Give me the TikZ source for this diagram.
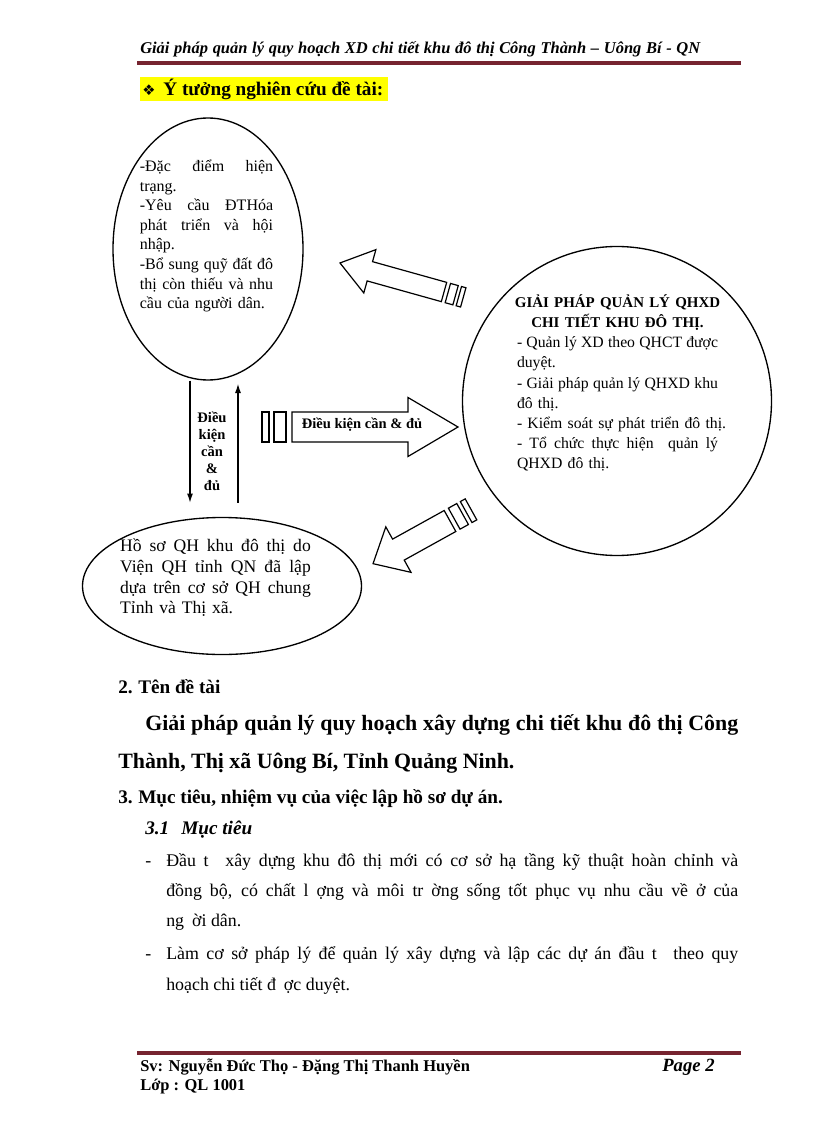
\documentclass[tikz,border=0pt]{standalone}
\usepackage{fontspec}
\setmainfont{Liberation Serif}
\newfontfamily\dingfont{DejaVu Sans}
\usetikzlibrary{shapes.geometric, arrows.meta, calc}
\setlength{\parindent}{0pt}
\definecolor{rulered}{RGB}{118,36,48}
\definecolor{markyellow}{RGB}{255,255,0}
\newlength{\ellw}
\newcommand{\justline}[1]{{\spaceskip=0pt\xspaceskip=0pt\makebox[\ellw][s]{#1}}}
\newcommand{\restline}[1]{\makebox[\ellw][l]{#1}}
\tikzset{
  ellbox/.style={draw, ellipse, line width=1pt, inner sep=0pt},
  blockarrow/.style={draw, line width=0.9pt, fill=white, line join=miter},
  thinarrow/.style={line width=1pt, -{Latex[length=7pt, width=4.5pt]}},
  elltext/.style={align=center, inner sep=0pt, text width=#1,
    execute at begin node={\setlength{\ellw}{#1}}},
  linetext/.style={anchor=base west, inner sep=0pt},
  bodyfont/.style={font=\fontsize{13.4}{16}\selectfont},
  headfont/.style={font=\fontsize{14.4}{17}\selectfont\bfseries},
  pics/stripearrow/.style n args={4}{code={
    \draw[blockarrow] (0,-#2) -- ({#1-#4},-#2) -- ({#1-#4},-#3) -- (#1,0)
      -- ({#1-#4},#3) -- ({#1-#4},#2) -- (0,#2) -- cycle;
    \draw[blockarrow] ({-0.4*#2},-#2) rectangle ({-1.2*#2},#2);
    \draw[blockarrow] ({-1.54*#2},-#2) rectangle ({-2*#2},#2);
  }},
}

\begin{document}
\begin{tikzpicture}[x=0.75pt, y=-0.75pt]
  \useasboundingbox (0,0) rectangle (816,1123);
  \fill[white] (0,0) rectangle (816,1123);
  % page header
  \node[linetext, font=\fontsize{12.35}{15}\selectfont\bfseries\itshape] (header) at (140,54)
    {\makebox[420pt][s]{Giải pháp quản lý quy hoạch XD chi tiết khu đô thị Công Thành – Uông Bí - QN}};
  \fill[rulered] (137,61) rectangle (741,65);
  % idea title
  \fill[markyellow] (140,77) rectangle (388,101);
  \node[linetext, font=\fontsize{14.4}{17}\selectfont\bfseries] (idea) at (142,96)
    {{\dingfont\fontsize{11}{12}\selectfont ❖}\hspace{6pt}Ý tưởng nghiên cứu đề tài:};
  % ellipses
  \node[ellbox, minimum width=142.5pt, minimum height=196.5pt] (topell) at (208,249) {};
  \node[elltext=100pt, font=\fontsize{12}{14.7}\selectfont] (toptxt) at (206.5,236)
    {\justline{-Đặc điểm hiện}\\ \restline{trạng.}\\ \justline{-Yêu cầu ĐTHóa}\\
     \justline{phát triển và hội}\\ \restline{nhập.}\\ \justline{-Bổ sung quỹ đất đô}\\
     \justline{thị còn thiếu và nhu}\\ \restline{cầu của người dân.}};
  \node[ellbox, circle, minimum size=231.75pt] (solution) at (617,401) {};
  \node[elltext=150.75pt, font=\fontsize{11.8}{15.1}\selectfont] (soltxt) at (617.5,383)
    {\makebox[\ellw]{\bfseries\fontsize{11.2}{15.1}\selectfont GIẢI PHÁP QUẢN LÝ QHXD}\\
     \makebox[\ellw]{\bfseries\fontsize{11.2}{15.1}\selectfont CHI TIẾT KHU ĐÔ THỊ.}\\
     \justline{- Quản lý XD theo QHCT được}\\ \restline{duyệt.}\\
     \justline{- Giải pháp quản lý QHXD khu}\\ \restline{đô thị.}\\
     \restline{- Kiểm soát sự phát triển đô thị.}\\
     \justline{- Tổ chức thực hiện\ \ quản lý}\\ \restline{QHXD đô thị.}};
  \node[ellbox, minimum width=209.25pt, minimum height=102.75pt] (botell) at (222,586) {};
  \node[elltext=143pt, font=\fontsize{13.2}{15.5}\selectfont] (bottxt) at (215.5,578)
    {\justline{Hồ sơ QH khu đô thị do}\\ \justline{Viện QH tỉnh QN đã lập}\\
     \justline{dựa trên cơ sở QH chung}\\ \restline{Tỉnh và Thị xã.}};
  % block arrows
  \pic[rotate=164.4] at (444,292) {stripearrow={108}{10}{22.5}{31}};
  \pic at (292,427) {stripearrow={166}{15}{29.5}{50}};
  \pic[rotate=209] at (450,521) {stripearrow={88}{12}{26}{29}};
  \node[font=\fontsize{10.9}{13}\selectfont\bfseries, inner sep=0pt] (condlbl) at (362,425) {Điều kiện cần \& đủ};
  % up and down link
  \draw[thinarrow] ($(topell.south)+(-18,0)$) -- ($(botell.north)+(-32,-14)$);
  \draw[thinarrow] ($(botell.north)+(16,-14)$) -- ($(topell.south)+(30,3)$);
  \node[align=center, font=\fontsize{10.9}{12.75}\selectfont\bfseries, inner sep=0pt] (linklbl) at (212,451)
    {Điều\\kiện\\cần\\\&\\đủ};
  % sections 2 and 3
  \node[linetext, headfont] (sec2) at (118,693) {\makebox[15pt][l]{2.}Tên đề tài};
  \node[linetext, font=\fontsize{16.4}{19}\selectfont\bfseries] (title1) at (145,730)
    {\makebox[444.75pt][s]{Giải pháp quản lý quy hoạch xây dựng chi tiết khu đô thị Công}};
  \node[linetext, font=\fontsize{16.4}{19}\selectfont\bfseries] (title2) at (118,768)
    {Thành, Thị xã Uông Bí, Tỉnh Quảng Ninh.};
  \node[linetext, headfont] (sec3) at (118,803) {\makebox[15pt][l]{3.}Mục tiêu, nhiệm vụ của việc lập hồ sơ dự án.};
  \node[linetext, font=\fontsize{14.4}{17}\selectfont\bfseries\itshape] (sec31) at (145,834) {3.1\hspace{9pt}Mục tiêu};
  \node[linetext, bodyfont] (dash1) at (145,866) {-};
  \node[linetext, bodyfont] (aim1a) at (166,866)
    {\makebox[429pt][s]{Đầu t\hspace{0.5em} xây dựng khu đô thị mới có cơ sở hạ tầng kỹ thuật hoàn chỉnh và}};
  \node[linetext, bodyfont] (aim1b) at (166,896)
    {\makebox[429pt][s]{đồng bộ, có chất l\hspace{0.45em}ợng và môi tr\hspace{0.45em}ờng sống tốt phục vụ nhu cầu về ở của}};
  \node[linetext, bodyfont] (aim1c) at (166,926) {ng\hspace{0.45em}ời dân.};
  \node[linetext, bodyfont] (dash2) at (145,959) {-};
  \node[linetext, bodyfont] (aim2a) at (166,959)
    {\makebox[429pt][s]{Làm cơ sở pháp lý để quản lý xây dựng và lập các dự án đầu t\hspace{0.5em} theo quy}};
  \node[linetext, bodyfont] (aim2b) at (166,990) {hoạch chi tiết đ\hspace{0.45em}ợc duyệt.};
  % page footer
  \fill[rulered] (137,1051) rectangle (741,1055);
  \node[linetext, font=\fontsize{12.35}{15}\selectfont\bfseries] (student) at (140,1071)
    {Sv: Nguyễn Đức Thọ - Đặng Thị Thanh Huyền};
  \node[linetext, font=\fontsize{12.35}{15}\selectfont\bfseries] (klass) at (140,1090) {Lớp : QL 1001};
  \node[linetext, font=\fontsize{14}{15}\selectfont\bfseries\itshape] (pageno) at (662,1071) {Page 2};
\end{tikzpicture}
\end{document}
